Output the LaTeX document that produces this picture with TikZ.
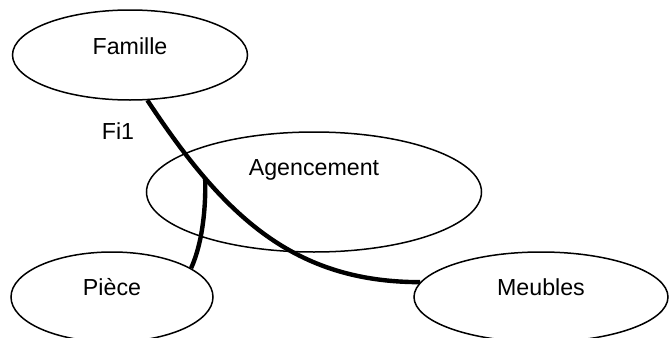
\documentclass[tikz,border=0pt]{standalone}
\usepackage{fontspec}
\setmainfont{Liberation Sans}
\usetikzlibrary{shapes.geometric}
\begin{document}
\begin{tikzpicture}[x=0.5pt, y=-0.5pt,
    entity/.style = {ellipse, draw, line width=0.75pt, inner sep=0pt},
    link/.style = {line width=2.2pt},
    font=\fontsize{11.6}{14}\selectfont]
                \useasboundingbox (0,0) rectangle (671,338);

                % Entities
                \node [entity, minimum width=117.5pt, minimum height=45pt,
                       label={[yshift=4.5pt]center:Famille}] (famille) at (130,55) {};
                \node [entity, minimum width=167.5pt, minimum height=60pt,
                       label={[yshift=11pt]center:Agencement}] (agencement) at (314,192) {};
                \node [entity, minimum width=101pt, minimum height=45pt,
                       label={[yshift=5pt]center:Pièce}] (piece) at (112,297) {};
                \node [entity, minimum width=127pt, minimum height=45pt,
                       label={[yshift=5pt]center:Meubles}] (meubles) at (541,297) {};

                \node (fi1) at (118,131) {Fi1};

                % Links
                \draw[link] (famille.-69) .. controls (225,218) and (295,282) .. (meubles.173)
                    coordinate[pos=0.25] (junction);
                \draw[link] (piece.20) .. controls (203,242) and (206,205) .. (junction);
            \end{tikzpicture}
\end{document}
